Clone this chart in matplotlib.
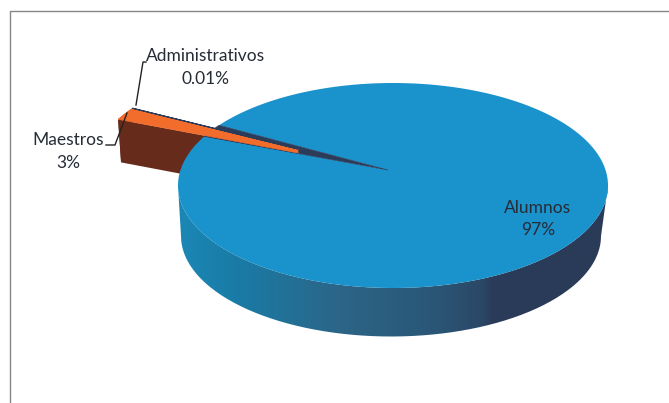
import numpy as np
import matplotlib
matplotlib.use("Agg")
import matplotlib.pyplot as plt
from matplotlib.colors import LinearSegmentedColormap
from matplotlib.patches import PathPatch, Polygon
from matplotlib.path import Path

categories = ["Alumnos", "Maestros", "Administrativos"]
values = [97, 3, 0.01]
value_labels = ["97%", "3%", "0.01%"]

plt.rcParams["font.family"] = ["Lato", "DejaVu Sans"]

fig = plt.figure(figsize=(6.69, 4.03), dpi=100)
ax = fig.add_axes([0, 0, 1, 1])


def rim(cx, cy, rx, ry, t0, t1, n=200):
    t = np.radians(np.linspace(t0, t1, n))
    return np.column_stack([cx + rx * np.cos(t), cy - ry * np.sin(t)])


# pie layout in pixels, the top ellipse is not centred on the apex (perspective)
top = (393, 185.5, 215, 102.5)
bottom = (391, 236, 210, 100.5)
apex = np.array([388, 170])
explode = np.array([-90, -17])
depth = 43
foreshorten = 0.68  # small slices look narrower on the far left of the tilted disc

# sweep of each slice in degrees, admin starts the turn
total = sum(values)
start = 144
admin_end = start + 360 * values[2] / total * foreshorten
maestros_end = admin_end + 360 * values[1] / total * foreshorten
alumnos_end = start + 360

ex_top = (top[0] + explode[0], top[1] + explode[1], top[2] * 0.98, top[3])

# exploded slice, side face first so the big slice hides it
outer = rim(*ex_top, admin_end, maestros_end, 30)
tip = apex + explode
tip_upper = tip + [0, -4]  # the tip is blunt in the original
side = np.vstack([tip, outer[-1], outer[-1] + [3, depth], tip + [0, depth]])
ax.add_patch(Polygon(side, fc="#662b1b", ec="none", zorder=1))
drop = np.vstack([outer, outer[::-1] + [3, depth]])
ax.add_patch(Polygon(drop, fc="#662b1b", ec="none", zorder=1))

# rim of the big slice, shaded left to right
front = np.vstack([rim(*top, 180, 360), rim(*bottom, 360, 180)])
shade = LinearSegmentedColormap.from_list("shade", [
    (0.00, "#1c87b6"), (0.13, "#197ca6"), (0.38, "#2c6587"),
    (0.60, "#2a5676"), (0.71, "#2c4766"), (0.73, "#2a3c5a"), (1.00, "#2a3b58")])
img = ax.imshow(np.linspace(0, 1, 256)[None, :], cmap=shade, aspect="auto",
                extent=[178, 608, 340, 180], zorder=2)
clip = PathPatch(Path(front), fc="none", ec="none", transform=ax.transData)
ax.add_patch(clip)
img.set_clip_path(clip)

# top of the big slice and the dark wall seen through the gap
alumnos_top = np.vstack([apex, rim(*top, maestros_end, alumnos_end, 400)])
ax.add_patch(Polygon(alumnos_top, fc="#1a92cb", ec="none", zorder=3))
gap = np.vstack([apex, rim(*top, start, maestros_end, 30)])
ax.add_patch(Polygon(gap, fc="#2a3c5a", ec="#2a3c5a", lw=0.4, zorder=4))

# orange top, then the 0.01% sliver which only shows as its outline
ax.add_patch(Polygon(np.vstack([tip, tip_upper, outer]), fc="#f26c2c", ec="#f26c2c", lw=0.4, zorder=5))
sliver = np.vstack([tip_upper, rim(*ex_top, start, admin_end, 3)])
ax.add_patch(Polygon(sliver, fc="#2a3c5a", ec="#2a3c5a", lw=0.8, zorder=6))

# leader lines
ax.plot([146, 143, 136], [62, 62, 105], color="#222222", lw=1, zorder=7)
ax.plot([106, 115, 127], [145, 145, 113], color="#222222", lw=1, zorder=7)

# labels
label_pos = [(538, 208, 230), (68, 140, 163), (206, 56, 79)]
for name, pct, (x, y1, y2) in zip(categories, value_labels, label_pos):
    ax.text(x, y1, name, ha="center", va="center", fontsize=12.5, color="#262c36", zorder=8)
    ax.text(x, y2, pct, ha="center", va="center", fontsize=12.5, color="#262c36", zorder=8)

# chart frame, cut by the image edge on the right and at the bottom
ax.plot([9.5, 9.5, 669], [403, 10.5, 10.5], color="#868686", lw=1, zorder=0)

ax.set_xlim(0, 669)
ax.set_ylim(403, 0)
ax.axis("off")
fig.savefig("out.png", dpi=100)
